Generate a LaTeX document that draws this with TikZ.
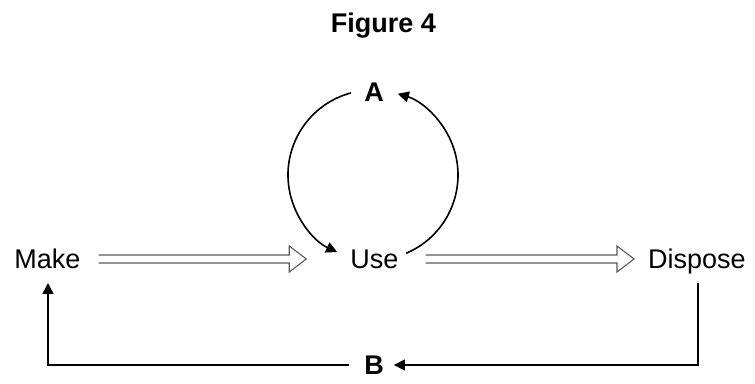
\documentclass[tikz,border=0pt]{standalone}
\usepackage{fontspec}
\setmainfont{Liberation Sans}
\usetikzlibrary{arrows.meta,calc}
\begin{document}
\begin{tikzpicture}[x=1pt,y=1pt,
  lbl/.style={inner sep=0pt,anchor=base,font=\fontsize{27}{30}\selectfont},
  blbl/.style={inner sep=0pt,anchor=center,font=\fontsize{27}{30}\selectfont\bfseries},
  flow/.style={draw=black!65,line width=1.1pt,line join=miter},
  loop/.style={draw=black,line width=1.6pt,-{Triangle[length=11pt,width=11pt]}}]
\useasboundingbox (0,0) rectangle (755,383);
% title
\node[inner sep=0pt,anchor=base,font=\fontsize{27}{30}\selectfont\bfseries] (title) at (383.5,350) {Figure 4};
% main nodes
\node[lbl] (make) at (47.5,114) {Make};
\node[lbl] (use) at (374.5,114) {Use};
\node[lbl] (dispose) at (697,114) {Dispose};
\node[blbl] (A) at (374,291) {A};
\node[blbl] (B) at (374,18) {B};
% hollow double arrows
\coordinate (m1) at ($(make.east)+(18,0)$);
\coordinate (u1) at ($(use.west)+(-44,0)$);
\draw[flow] ($(m1|-0,128)$) -- ($(u1|-0,128)+(-17,0)$) -- ($(u1|-0,137)+(-17,0)$)
  -- ($(u1|-0,124)$) -- ($(u1|-0,111)+(-17,0)$) -- ($(u1|-0,120)+(-17,0)$) -- ($(m1|-0,120)$);
\coordinate (u2) at ($(use.east)+(27,0)$);
\coordinate (d1) at ($(dispose.west)+(-14,0)$);
\draw[flow] ($(u2|-0,128)$) -- ($(d1|-0,128)+(-17,0)$) -- ($(d1|-0,137)+(-17,0)$)
  -- ($(d1|-0,124)$) -- ($(d1|-0,111)+(-17,0)$) -- ($(d1|-0,120)+(-17,0)$) -- ($(u2|-0,120)$);
% reuse loop
\coordinate (c) at (373,208);
\draw[loop] ([shift=(105:85)]c) arc[start angle=105,end angle=245,radius=85];
\draw[loop] ([shift=(-67:85)]c) arc[start angle=-67,end angle=73,radius=85];
% return path
\coordinate (dtop) at (698,100);
\coordinate (mtop) at (48,100);
\draw[loop] (dtop) |- ($(B.east)+(10,0)$);
\draw[loop] ($(B.west)+(-15,0)$) -| (mtop);
\end{tikzpicture}
\end{document}
